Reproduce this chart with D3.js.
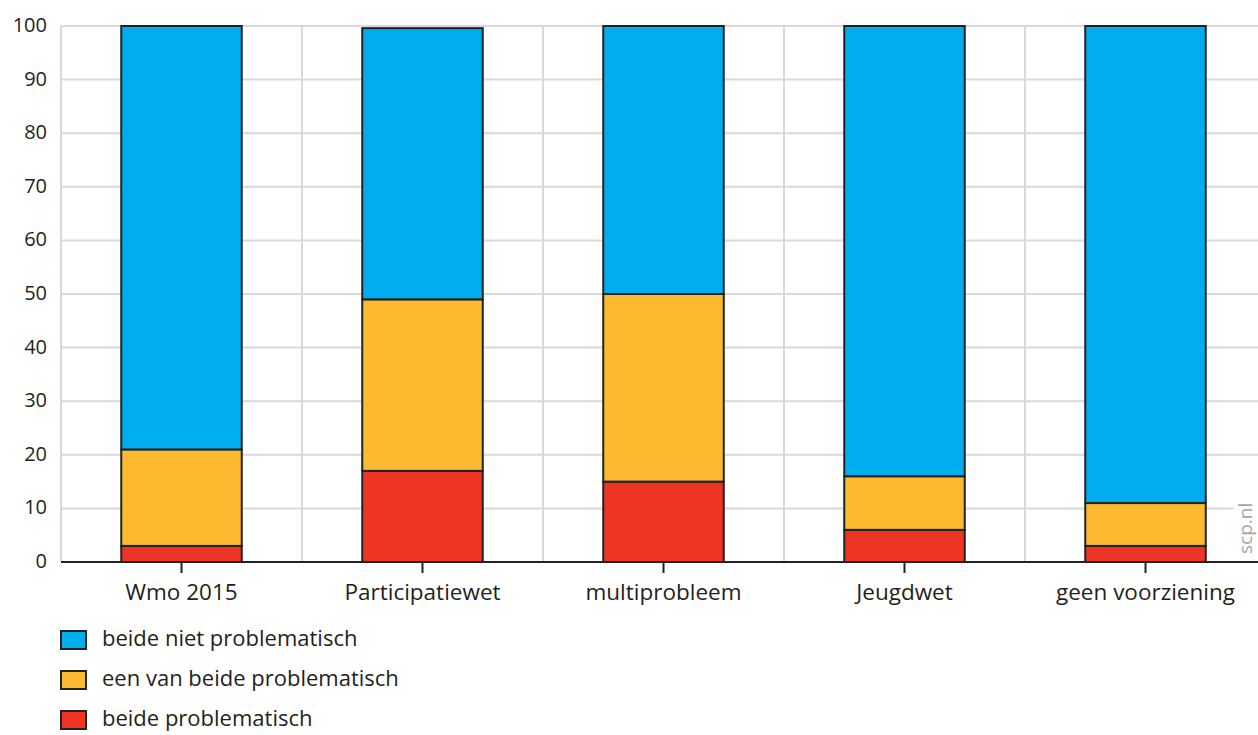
<!DOCTYPE html>
<html><head><meta charset="utf-8">
<script src="https://cdn.jsdelivr.net/npm/d3@7"></script>
<style>body{margin:0;background:#fff;}svg{display:block;font-family:"Open Sans",sans-serif;}</style>
</head><body>
<svg id="c" width="1258" height="735"></svg>
<script>
const categories = ["Wmo 2015","Participatiewet","multiprobleem","Jeugdwet","geen voorziening"];
const seriesNames = ["beide problematisch","een van beide problematisch","beide niet problematisch"];
const beideProblematisch = [3,17,15,6,3];
const eenVanBeide = [18,32,35,10,8];
const beideNiet = [79,50.6,50,84,89];
const yTicks = [0,10,20,30,40,50,60,70,80,90,100];
const colors = ["#ee3524","#fbba30","#00aeef"];

(function(){
const svg = d3.select("#c");
const mLeft = 61, mTop = 26, mBottom = 562, bandW = 241;
const x = d3.scaleBand().domain(categories).range([mLeft, mLeft + bandW*categories.length]).paddingInner(0.5).paddingOuter(0.25);
const y = d3.scaleLinear().domain([0,100]).range([mBottom, mTop]);

// grid
const g = svg.append("g");
g.selectAll("line.h").data(yTicks.slice(1)).join("line")
  .attr("x1", mLeft).attr("x2", 1258).attr("y1", d=>y(d)).attr("y2", d=>y(d))
  .attr("stroke","#d9d9d9").attr("stroke-width",2);
const vlines = d3.range(categories.length+1).map(i => mLeft + i*bandW);
g.selectAll("line.v").data(vlines).join("line")
  .attr("x1", d=>d).attr("x2", d=>d).attr("y1", mTop).attr("y2", mBottom)
  .attr("stroke","#d9d9d9").attr("stroke-width",2);

// stack
const rows = categories.map((c,i)=>({cat:c, a:beideProblematisch[i], b:eenVanBeide[i], c2:beideNiet[i]}));
const stack = d3.stack().keys(["a","b","c2"])(rows);
svg.append("g").selectAll("g").data(stack).join("g")
  .attr("fill",(d,i)=>colors[i])
  .selectAll("rect").data(d=>d).join("rect")
  .attr("x", d=>x(d.data.cat)).attr("width", x.bandwidth())
  .attr("y", d=>y(d[1])).attr("height", d=>y(d[0])-y(d[1]))
  .attr("stroke","#222").attr("stroke-width",2);

// scp.nl label
svg.append("rect").attr("x",1234).attr("y",488).attr("width",24).attr("height",70).attr("fill","#fff");
svg.append("text").attr("transform","translate(1252,554) rotate(-90)")
  .attr("font-size",19).attr("fill","#a6a6a6").text("scp.nl");

// x axis
svg.append("line").attr("x1",mLeft).attr("x2",1258).attr("y1",mBottom).attr("y2",mBottom)
  .attr("stroke","#222").attr("stroke-width",2);
svg.append("g").selectAll("line").data(categories).join("line")
  .attr("x1",d=>x(d)+x.bandwidth()/2).attr("x2",d=>x(d)+x.bandwidth()/2)
  .attr("y1",mBottom).attr("y2",mBottom+11).attr("stroke","#222").attr("stroke-width",2);
svg.append("g").selectAll("text").data(categories).join("text")
  .attr("x",d=>x(d)+x.bandwidth()/2).attr("y",600).attr("text-anchor","middle")
  .attr("font-size",22.5).attr("fill","#231f20").text(d=>d);

// y labels
svg.append("g").selectAll("text").data(yTicks).join("text")
  .attr("x",47).attr("y",d=>y(d)+6).attr("text-anchor","end")
  .attr("font-size",20).attr("fill","#231f20").text(d=>d);

// legend
const legendOrder = [2,1,0];
const lg = svg.append("g").selectAll("g").data(legendOrder).join("g")
  .attr("transform",(d,i)=>`translate(61,${631+i*40})`);
lg.append("rect").attr("width",25).attr("height",18).attr("fill",d=>colors[d]).attr("stroke","#222").attr("stroke-width",2);
lg.append("text").attr("x",41).attr("y",15).attr("font-size",22).attr("fill","#231f20").text(d=>seriesNames[d]);
})();
</script>
</body></html>
